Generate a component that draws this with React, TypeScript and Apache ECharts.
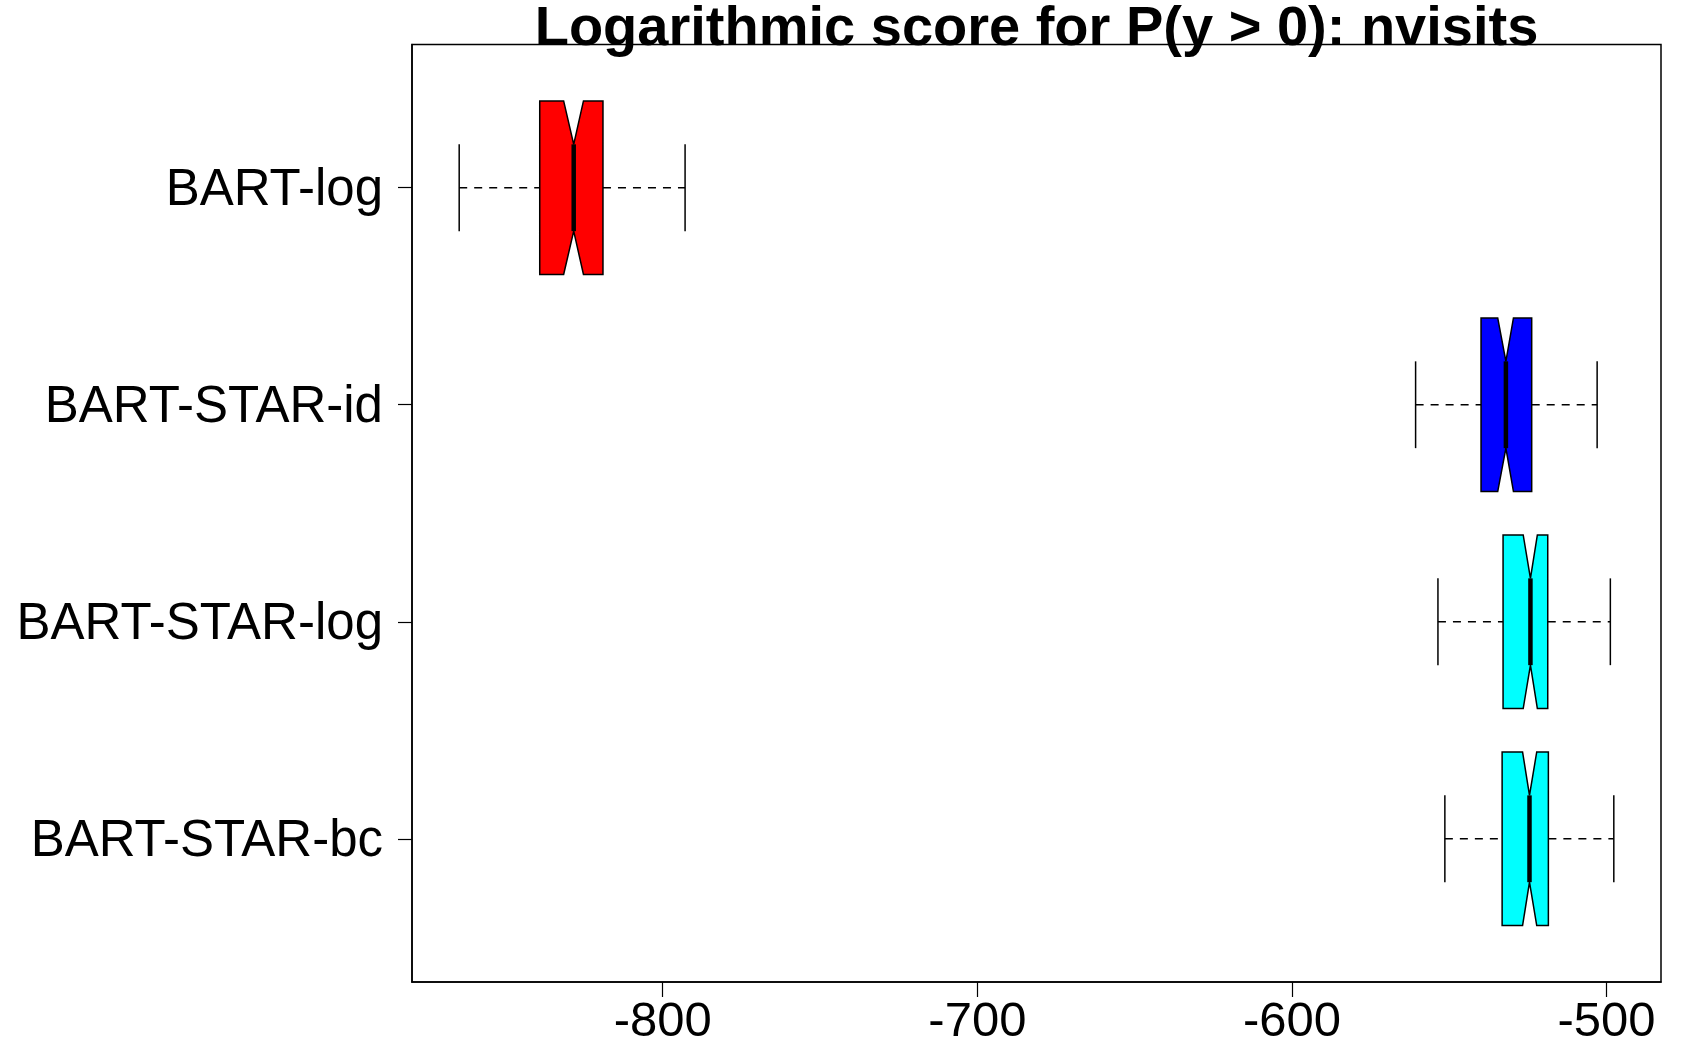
import React, { useEffect, useRef } from "react";
import * as echarts from "echarts";

// Categories listed top-to-bottom as in the chart, with their y positions
const categories = ["BART-log", "BART-STAR-id", "BART-STAR-log", "BART-STAR-bc"];
const positions = [4, 3, 2, 1];

// Boxplot statistics
const lowerWhisker = [-864.7, -560.7, -553.6, -551.4];
const q1 = [-839.1, -539.9, -532.9, -533.2];
const notchLow = [-831.5, -534.6, -526.5, -526.7];
const median = [-828.3, -532.0, -524.2, -524.5];
const notchHigh = [-825.2, -529.6, -522.0, -522.2];
const q3 = [-819.0, -523.8, -518.7, -518.5];
const upperWhisker = [-792.9, -503.0, -498.8, -497.7];
const boxColors = ["#FF0000", "#0000FF", "#00FFFF", "#00FFFF"];

const xTicks = [-800, -700, -600, -500];
const yTicks = [1, 2, 3, 4];

const titleText = "Logarithmic score for P(y > 0): nvisits";
const FONT = "'Liberation Sans', Arial, Helvetica, sans-serif";

export default function App() {
  const ref = useRef<HTMLDivElement>(null);

  useEffect(() => {
    if (!ref.current) return;
    const chart = echarts.init(ref.current, undefined, { renderer: "svg" });

    const data = categories.map((_, i) => [
      positions[i],
      lowerWhisker[i],
      q1[i],
      notchLow[i],
      median[i],
      notchHigh[i],
      q3[i],
      upperWhisker[i],
    ]);

    const renderItem = (params: any, api: any) => {
      const y = api.value(0);
      const lo = api.value(1);
      const a = api.value(2);
      const nl = api.value(3);
      const md = api.value(4);
      const nh = api.value(5);
      const b = api.value(6);
      const hi = api.value(7);
      const hw = 0.4;
      const hn = 0.2;
      const c = (x: number, yy: number) => api.coord([x, yy]);
      const color = boxColors[params.dataIndex];
      const lineStyle = { stroke: "#000", lineWidth: 1.5, fill: null };
      const dashStyle = { stroke: "#000", lineWidth: 1.5, lineDash: [8, 7], fill: null };
      const p1 = c(lo, y);
      const p2 = c(a, y);
      const p3 = c(b, y);
      const p4 = c(hi, y);
      const capLoA = c(lo, y - hn);
      const capLoB = c(lo, y + hn);
      const capHiA = c(hi, y - hn);
      const capHiB = c(hi, y + hn);
      const poly = [
        c(a, y + hw),
        c(nl, y + hw),
        c(md, y + hn),
        c(nh, y + hw),
        c(b, y + hw),
        c(b, y - hw),
        c(nh, y - hw),
        c(md, y - hn),
        c(nl, y - hw),
        c(a, y - hw),
      ];
      const mA = c(md, y - hn);
      const mB = c(md, y + hn);
      return {
        type: "group",
        children: [
          { type: "line", shape: { x1: p1[0], y1: p1[1], x2: p2[0], y2: p2[1] }, style: dashStyle },
          { type: "line", shape: { x1: p3[0], y1: p3[1], x2: p4[0], y2: p4[1] }, style: dashStyle },
          { type: "line", shape: { x1: capLoA[0], y1: capLoA[1], x2: capLoB[0], y2: capLoB[1] }, style: lineStyle },
          { type: "line", shape: { x1: capHiA[0], y1: capHiA[1], x2: capHiB[0], y2: capHiB[1] }, style: lineStyle },
          { type: "polygon", shape: { points: poly }, style: { fill: color, stroke: "#000", lineWidth: 1.5 } },
          { type: "line", shape: { x1: mA[0], y1: mA[1], x2: mB[0], y2: mB[1] }, style: { stroke: "#000", lineWidth: 4.5 } },
        ],
      };
    };

    chart.setOption({
      animation: false,
      backgroundColor: "#fff",
      grid: {
        left: 412,
        right: 31,
        top: 44.5,
        bottom: 76,
        show: true,
        borderColor: "#000",
        borderWidth: 1.5,
        backgroundColor: "transparent",
      },
      xAxis: {
        type: "value",
        min: -879.7,
        max: -482.7,
        axisLine: { show: true, lineStyle: { color: "#000", width: 1.5 } },
        axisTick: { show: true, length: 15, customValues: xTicks, lineStyle: { color: "#000", width: 1.2 } },
        axisLabel: {
          customValues: xTicks,
          color: "#000",
          fontSize: 49,
          fontFamily: FONT,
          margin: 12,
          formatter: (v: number) => String(v),
        },
        splitLine: { show: false },
      },
      yAxis: {
        type: "value",
        min: 0.34,
        max: 4.66,
        axisLine: { show: true, lineStyle: { color: "#000", width: 1.5 } },
        axisTick: { show: true, length: 14, customValues: yTicks, lineStyle: { color: "#000", width: 1.2 } },
        axisLabel: {
          customValues: yTicks,
          color: "#000",
          fontSize: 51,
          fontFamily: FONT,
          margin: 29,
          formatter: (v: number) => {
            const i = positions.indexOf(Math.round(v));
            return i >= 0 ? categories[i] : "";
          },
        },
        splitLine: { show: false },
      },
      graphic: [
        {
          type: "text",
          x: 1036.5,
          y: 25.5,
          z: 100,
          style: {
            text: titleText,
            fontSize: 56,
            fontWeight: "bold",
            fontFamily: FONT,
            fill: "#000",
            textAlign: "center",
            textVerticalAlign: "middle",
            lineHeight: 44,
          },
        },
      ],
      series: [
        {
          type: "custom",
          renderItem,
          data,
          clip: false,
          encode: { x: [1, 2, 3, 4, 5, 6, 7], y: 0 },
          silent: true,
        },
      ],
    });

    return () => chart.dispose();
  }, []);

  return (
    <div
      ref={ref}
      style={{ position: "absolute", left: 0, top: 0, width: 1692, height: 1058, background: "#fff" }}
    />
  );
}
